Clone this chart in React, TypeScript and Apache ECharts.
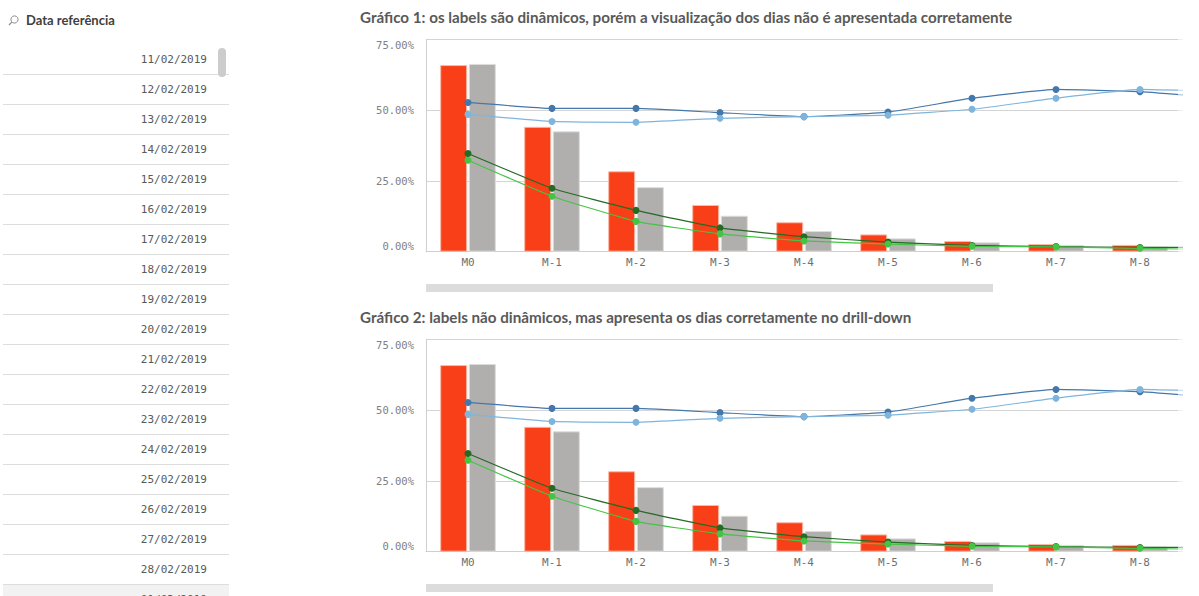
import React, { useEffect, useRef } from "react";
import * as echarts from "echarts";

const categories = ["M0", "M-1", "M-2", "M-3", "M-4", "M-5", "M-6", "M-7", "M-8", "M-9"];
const barRed = [65.9, 44.1, 28.4, 16.5, 10.4, 6.1, 3.8, 2.7, 2.4, 2.0];
const barGray = [66.3, 42.5, 22.8, 12.7, 7.3, 4.7, 3.3, 2.4, 1.8, 1.5];
const lineDarkBlue = [52.7, 50.6, 50.6, 49.1, 47.7, 49.3, 54.2, 57.3, 56.5, 54.1];
const lineLightBlue = [48.5, 46.0, 45.7, 47.1, 47.7, 48.2, 50.3, 54.2, 57.3, 56.5];
const lineDarkGreen = [34.7, 22.4, 14.6, 8.4, 5.3, 3.4, 2.2, 1.8, 1.5, 1.6];
const lineGreen = [32.3, 19.6, 10.7, 6.3, 3.8, 2.7, 1.9, 1.7, 1.2, 0.7];
const yTicks = [0, 25, 50, 75];
const visibleCategoryCount = 9;
const dates = [
  "11/02/2019", "12/02/2019", "13/02/2019", "14/02/2019", "15/02/2019", "16/02/2019",
  "17/02/2019", "18/02/2019", "19/02/2019", "20/02/2019", "21/02/2019", "22/02/2019",
  "23/02/2019", "24/02/2019", "25/02/2019", "26/02/2019", "27/02/2019", "28/02/2019",
  "01/03/2019",
];
const titles = [
  "Gráfico 1: os labels são dinâmicos, porém a visualização dos dias não é apresentada corretamente",
  "Gráfico 2: labels não dinâmicos, mas apresenta os dias corretamente no drill-down",
];

const MONO = "'DejaVu Sans Mono', monospace";
const SANS = "Lato, 'Noto Sans', sans-serif";

export default function App() {
  const ref = useRef<HTMLDivElement>(null);
  useEffect(() => {
    document.body.style.margin = "0";
    const chart = echarts.init(ref.current!, null, { renderer: "svg" });
    const offsets = [0, 300];
    const grids: any[] = [];
    const xAxes: any[] = [];
    const yAxes: any[] = [];
    const series: any[] = [];
    const graphics: any[] = [];

    offsets.forEach((off, i) => {
      grids.push({ left: 426, top: 39.3 + off, width: 840, height: 212.4, containLabel: false });
      xAxes.push({
        type: "category",
        gridIndex: i,
        data: categories,
        axisLine: { show: true, lineStyle: { color: "#cfcfcf", width: 1 } },
        axisTick: { show: false },
        axisLabel: {
          color: "#707070",
          fontFamily: MONO,
          fontSize: 11,
          margin: 5,
          interval: 0,
          formatter: (v: string, idx: number) => (idx < visibleCategoryCount ? v : ""),
        },
      });
      yAxes.push({
        type: "value",
        gridIndex: i,
        min: yTicks[0],
        max: yTicks[yTicks.length - 1],
        interval: 25,
        axisLine: { show: true, lineStyle: { color: "#cfcfcf", width: 1 } },
        axisTick: { show: false },
        splitLine: { show: true, lineStyle: { color: "#d4d4d4", width: 1 } },
        axisLabel: {
          color: "#808080",
          fontFamily: MONO,
          fontSize: 10.5,
          margin: 12,
          formatter: (v: number) => v.toFixed(2) + "%",
          verticalAlignMinLabel: "bottom",
          verticalAlignMaxLabel: "top",
        },
      });
      series.push(
        {
          type: "bar",
          xAxisIndex: i,
          yAxisIndex: i,
          data: barRed,
          barWidth: 27,
          barGap: "6%",
          itemStyle: { color: "#f93f17", borderColor: "#fbb9a8", borderWidth: 1 },
          z: 2,
        },
        {
          type: "bar",
          xAxisIndex: i,
          yAxisIndex: i,
          data: barGray,
          barWidth: 27,
          barGap: "6%",
          itemStyle: { color: "#b0afae", borderColor: "#dedddc", borderWidth: 1 },
          z: 2,
        }
      );
      const lines: [number[], string][] = [
        [lineDarkBlue, "#4477aa"],
        [lineLightBlue, "#7fb5dc"],
        [lineDarkGreen, "#246b24"],
        [lineGreen, "#44c444"],
      ];
      lines.forEach(([d, c]) => {
        series.push({
          type: "line",
          xAxisIndex: i,
          yAxisIndex: i,
          data: d,
          smooth: 0.12,
          symbol: "circle",
          symbolSize: 7,
          lineStyle: { color: c, width: 1.2 },
          itemStyle: { color: c },
          z: 5,
        });
      });
      graphics.push(
        {
          type: "text",
          left: 360,
          top: 9 + off,
          style: {
            text: titles[i],
            font: `bold 15.2px ${SANS}`,
            fill: "#595959",
          },
        },
        {
          type: "rect",
          shape: { x: 426, y: 284 + off, width: 567, height: 8 },
          style: { fill: "#dcdcdc" },
        }
      );
    });

    // cover area right of the visible plot (scrolled region)
    graphics.push({
      type: "rect",
      z: 100,
      shape: { x: 1183, y: 30, width: 120, height: 566 },
      style: { fill: "#ffffff" },
    });
    graphics.push({
      type: "rect",
      z: 99,
      shape: { x: 1178, y: 30, width: 5, height: 566 },
      style: { fill: "rgba(255,255,255,0.6)" },
    });

    // left list panel
    graphics.push(
      {
        type: "circle",
        shape: { cx: 14.5, cy: 19.5, r: 3.6 },
        style: { fill: "none", stroke: "#8a8a8a", lineWidth: 1 },
      },
      {
        type: "line",
        shape: { x1: 11.8, y1: 22.2, x2: 9, y2: 25 },
        style: { stroke: "#8a8a8a", lineWidth: 1.2 },
      },
      {
        type: "text",
        x: 26,
        y: 20,
        style: {
          text: "Data referência",
          font: `bold 13px ${SANS}`,
          fill: "#404040",
          verticalAlign: "middle",
        },
      }
    );
    graphics.push({
      type: "rect",
      shape: { x: 3, y: 584.5, width: 226, height: 30 },
      style: { fill: "#f2f2f2" },
    });
    dates.forEach((d, k) => {
      const cy = 59 + 30 * k;
      graphics.push({
        type: "text",
        x: 207,
        y: cy,
        style: {
          text: d,
          font: `11px ${MONO}`,
          fill: "#595959",
          align: "right",
          verticalAlign: "middle",
        },
      });
      if (k < dates.length - 1) {
        graphics.push({
          type: "line",
          shape: { x1: 3, y1: 74.5 + 30 * k, x2: 229, y2: 74.5 + 30 * k },
          style: { stroke: "#dddddd", lineWidth: 1 },
        });
      }
    });
    graphics.push({
      type: "rect",
      z: 50,
      shape: { x: 218, y: 48, width: 8, height: 29, r: 4 },
      style: { fill: "#cccccc" },
    });

    chart.setOption({
      animation: false,
      grid: grids,
      xAxis: xAxes,
      yAxis: yAxes,
      series,
      graphic: graphics,
    });
    return () => chart.dispose();
  }, []);
  return (
    <div style={{ width: 1199, height: 596, overflow: "hidden", position: "relative" }}>
      <div ref={ref} style={{ width: 1300, height: 596 }} />
    </div>
  );
}
